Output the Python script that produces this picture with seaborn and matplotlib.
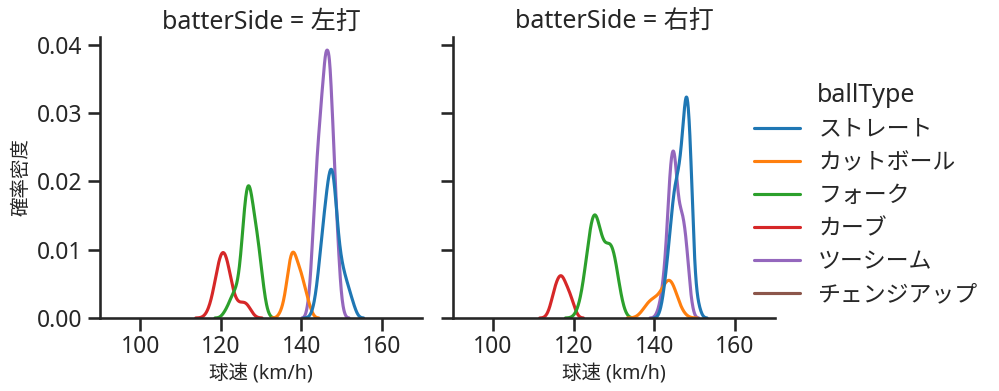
import numpy as np
import pandas as pd
import seaborn as sns
import matplotlib.pyplot as plt

ball_types = ["ストレート", "カットボール", "フォーク", "カーブ", "ツーシーム", "チェンジアップ"]
sides = ["左打", "右打"]

# 左打 (pitch counts per speed km/h)
l_straight_speed = [143, 144, 145, 146, 147, 148, 149, 150, 151, 152, 153]
l_straight_count = [1, 5, 12, 17, 23, 24, 12, 8, 6, 4, 2]
l_cutter_speed = [135, 136, 137, 138, 139, 140, 141, 142]
l_cutter_count = [1, 3, 9, 11, 8, 7, 4, 2]
l_fork_speed = [121, 122, 123, 124, 125, 126, 127, 128, 129, 130, 131]
l_fork_count = [1, 2, 4, 4, 8, 19, 22, 16, 13, 8, 2]
l_curve_speed = [117, 118, 119, 120, 121, 122, 123, 124, 125, 126, 127]
l_curve_count = [1, 3, 7, 11, 11, 8, 3, 2, 2, 3, 2]
l_twoseam_speed = [142, 143, 144, 145, 146, 147, 148, 149, 150]
l_twoseam_count = [3, 14, 25, 32, 40, 40, 26, 12, 2]

# 右打
r_straight_speed = [142, 143, 144, 145, 146, 147, 148, 149, 150, 151]
r_straight_count = [2, 7, 13, 20, 21, 26, 37, 28, 5, 2]
r_cutter_speed = [137, 138, 139, 140, 141, 142, 143, 144, 145, 146, 147]
r_cutter_count = [1, 2, 3, 3, 3, 4, 6, 7, 5, 2, 1]
r_fork_speed = [121, 122, 123, 124, 125, 126, 127, 128, 129, 130, 131, 132]
r_fork_count = [1, 3, 8, 13, 18, 15, 11, 10, 12, 11, 6, 2]
r_curve_speed = [114, 115, 116, 117, 118, 119, 120]
r_curve_count = [1, 4, 6, 7, 5, 4, 2]
r_twoseam_speed = [141, 142, 143, 144, 145, 146, 147, 148, 149]
r_twoseam_count = [1, 4, 10, 24, 27, 16, 16, 12, 3]
# changeups all at one speed -> no curve, only a legend entry
r_changeup_speed = [131]
r_changeup_count = [46]

groups = [
    ("左打", "ストレート", l_straight_speed, l_straight_count),
    ("左打", "カットボール", l_cutter_speed, l_cutter_count),
    ("左打", "フォーク", l_fork_speed, l_fork_count),
    ("左打", "カーブ", l_curve_speed, l_curve_count),
    ("左打", "ツーシーム", l_twoseam_speed, l_twoseam_count),
    ("右打", "ストレート", r_straight_speed, r_straight_count),
    ("右打", "カットボール", r_cutter_speed, r_cutter_count),
    ("右打", "フォーク", r_fork_speed, r_fork_count),
    ("右打", "カーブ", r_curve_speed, r_curve_count),
    ("右打", "ツーシーム", r_twoseam_speed, r_twoseam_count),
    ("右打", "チェンジアップ", r_changeup_speed, r_changeup_count),
]

frames = []
for side, ball, speed, count in groups:
    v = np.repeat(speed, count)
    frames.append(pd.DataFrame({"speed": v, "ballType": ball, "batterSide": side}))
df = pd.concat(frames, ignore_index=True)

sns.set_theme(style="ticks", context="talk", palette="tab10")
plt.rcParams["font.family"] = ["Noto Sans", "Noto Sans CJK JP"]
plt.rcParams["legend.labelspacing"] = 0.4

g = sns.displot(data=df, x="speed", hue="ballType", col="batterSide", kind="kde",
                hue_order=ball_types, col_order=sides, height=4, aspect=1)
g.set(xlim=(90, 170), xticks=[100, 120, 140, 160])
g.set_axis_labels("球速 (km/h)", "確率密度", fontsize=14)

g.figure.set_size_inches(9.99, 3.91)
g.figure.subplots_adjust(left=0.1001, right=0.7758, bottom=0.1867, top=0.9061, wspace=0.095)
g.figure.savefig("out.png", dpi=100)
